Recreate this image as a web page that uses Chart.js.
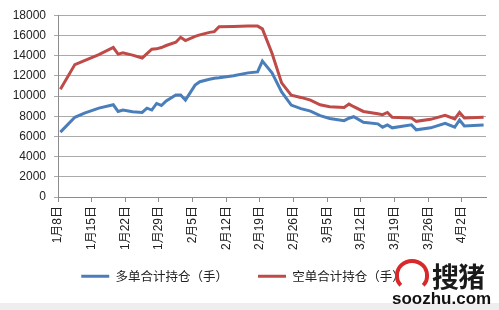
<!DOCTYPE html>
<html lang="zh">
<head>
    <meta charset="UTF-8">
    <title>多空持仓</title>
    <style>
        body {
            margin: 0;
            background: #fff;
        }

        .wrap {
            position: relative;
            width: 499px;
            height: 310px;
            overflow: hidden;
        }

        .band {
            position: absolute;
            left: 0;
            top: 303px;
            width: 499px;
            height: 7px;
            background: #eeeeee;
        }

        .logo {
            position: absolute;
            left: 395px;
            top: 259px;
            width: 26px;
            height: 24px;
            border: 4px solid #d8282a;
            border-radius: 50% 50% 45% 45%;
            border-bottom-color: transparent;
        }

        .brand {
            position: absolute;
            left: 432px;
            top: 256px;
            font: bold 27px "Noto Sans CJK SC", sans-serif;
            color: #1a1a1a;
            letter-spacing: -1px;
        }

        .site {
            position: absolute;
            left: 392px;
            top: 289px;
            font: bold 17px "Liberation Sans", Arial, sans-serif;
            color: #111;
        }
    </style>
    <script src="https://cdn.jsdelivr.net/npm/chart.js"></script>
</head>
<body>
    <div class="wrap">
        <canvas id="posChart" width="499" height="310"></canvas>
        <div class="band"></div>
        <div class="logo"></div>
        <div class="brand">搜猪</div>
        <div class="site">soozhu.com</div>
    </div>

    <script>
        // days counted from 1月8日
        const days = [0, 3, 5, 8, 11, 12, 13, 15, 17, 18, 19, 20, 21, 22, 24, 25, 26, 28, 29, 31, 32, 33, 36, 39,
            41, 42, 44, 46, 48, 50, 52, 54, 56, 59, 60, 61, 63, 66, 67, 68, 69, 73, 74, 77, 80, 82, 83, 84, 88];

        const longPos = [6420, 7890, 8300, 8800, 9130, 8470, 8610, 8440, 8370, 8800, 8610, 9260, 9060, 9520, 10100,
            10100, 9590, 11080, 11410, 11650, 11750, 11800, 12000, 12290, 12380, 13450, 12300, 10400, 9100, 8750,
            8500, 8050, 7780, 7560, 7800, 7950, 7400, 7240, 6910, 7140, 6850, 7140, 6650, 6850, 7300, 6910, 7630,
            7040, 7140];

        const shortPos = [10660, 13110, 13500, 14090, 14800, 14150, 14280, 14050, 13760, 14200, 14640, 14670, 14800,
            15000, 15320, 15810, 15490, 15910, 16050, 16300, 16370, 16860, 16890, 16920, 16920, 16650, 14240, 11300,
            10080, 9860, 9600, 9130, 8940, 8870, 9200, 8940, 8470, 8250, 8150, 8370, 7890, 7830, 7490, 7690, 8080,
            7730, 8370, 7830, 7890];

        const tickDays = [0, 7, 14, 21, 28, 35, 42, 49, 56, 63, 70, 77, 84];
        const tickLabels = ['1月8日', '1月15日', '1月22日', '1月29日', '2月5日', '2月12日', '2月19日',
            '2月26日', '3月5日', '3月12日', '3月19日', '3月26日', '4月2日'];

        const seriesNames = ['多单合计持仓（手）', '空单合计持仓（手）'];

        function toPoints(vals) {
            return vals.map((v, i) => ({ x: days[i] + 0.5, y: v }));
        }

        const labelFont = { family: '"Liberation Sans", "Noto Sans CJK SC", sans-serif', size: 12 };

        // legend padding also spaces the two items apart, so pull the legend back up
        const legendShift = {
            id: 'legendShift',
            afterLayout(chart) {
                chart.legend.top -= 26;
                chart.legend.bottom -= 26;
            }
        };

        new Chart(document.getElementById('posChart'), {
            type: 'line',
            data: {
                datasets: [{
                    label: seriesNames[0],
                    data: toPoints(longPos),
                    borderColor: '#4a7ebb',
                    backgroundColor: '#4a7ebb',
                    borderWidth: 3,
                    pointRadius: 0,
                    tension: 0
                }, {
                    label: seriesNames[1],
                    data: toPoints(shortPos),
                    borderColor: '#be4b48',
                    backgroundColor: '#be4b48',
                    borderWidth: 3,
                    pointRadius: 0,
                    tension: 0
                }]
            },
            options: {
                responsive: false,
                animation: false,
                layout: { padding: { left: 0, right: 13, top: 13, bottom: 0 } },
                plugins: {
                    tooltip: { enabled: false },
                    legend: {
                        position: 'bottom',
                        maxHeight: 44,
                        labels: {
                            usePointStyle: true,
                            pointStyle: 'line',
                            pointStyleWidth: 28,
                            padding: 30,
                            color: '#222',
                            font: { family: '"Noto Sans CJK SC", sans-serif', size: 12.5 }
                        }
                    }
                },
                scales: {
                    x: {
                        type: 'linear',
                        min: 0,
                        max: 89,
                        afterBuildTicks: (scale) => {
                            scale.ticks = tickDays.map(v => ({ value: v }));
                        },
                        afterFit: (scale) => {
                            scale.height = 69;
                        },
                        ticks: {
                            autoSkip: false,
                            minRotation: 90,
                            maxRotation: 90,
                            padding: 4,
                            color: '#222',
                            font: labelFont,
                            callback: (v, i) => tickLabels[i]
                        },
                        grid: {
                            drawOnChartArea: false,
                            drawTicks: true,
                            tickLength: 5,
                            color: '#8c8c8c'
                        },
                        border: { color: '#8c8c8c', width: 1 }
                    },
                    y: {
                        min: 0,
                        max: 18000,
                        afterFit: (scale) => {
                            scale.width = 58;
                        },
                        ticks: {
                            stepSize: 2000,
                            padding: 8,
                            color: '#222',
                            font: labelFont,
                            callback: (v) => String(v)
                        },
                        grid: {
                            color: '#aaaaaa',
                            tickLength: 4
                        },
                        border: { color: '#8c8c8c', width: 1 }
                    }
                }
            },
            plugins: [legendShift]
        });
    </script>
</body>
</html>
